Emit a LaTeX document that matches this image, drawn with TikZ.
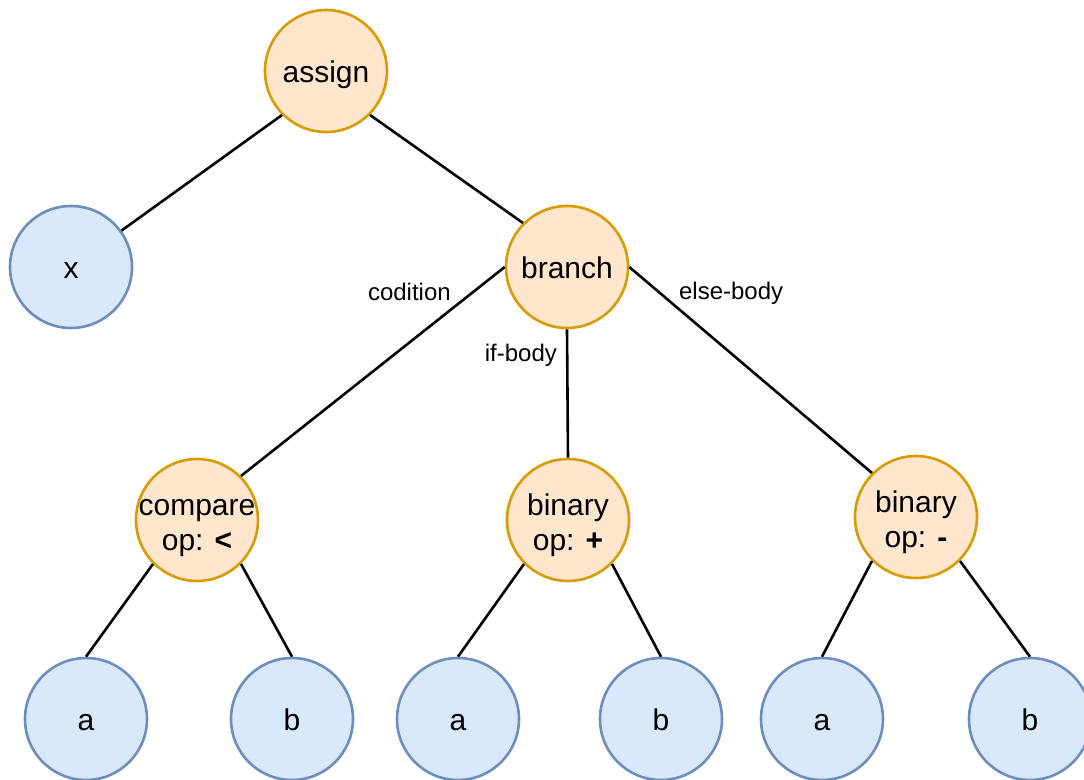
\documentclass[tikz,border=0pt]{standalone}
\usepackage{fontspec}
\setmainfont{Liberation Sans}
\usetikzlibrary{positioning}

\definecolor{opfill}{HTML}{FFE6CC}
\definecolor{opline}{HTML}{D79B00}
\definecolor{leaffill}{HTML}{DAE8FC}
\definecolor{leafline}{HTML}{6C8EBF}

\tikzset{
  opnode/.style={circle, draw=opline, fill=opfill, line width=1.3pt, minimum size=61pt,
    inner sep=0pt, align=center, text height=12pt, text depth=0pt,
    font=\fontsize{15}{17.5}\selectfont},
  twoline/.style={text height=31pt, text depth=0pt},
  leafnode/.style={circle, draw=leafline, fill=leaffill, line width=1.3pt, minimum size=61pt,
    inner sep=0pt, text height=12pt, text depth=0pt, font=\fontsize{15}{17.5}\selectfont},
  edgelabel/.style={inner sep=0pt, font=\fontsize{12}{14}\selectfont},
  link/.style={line width=1.3pt}
}

\begin{document}
\begin{tikzpicture}[x=0.5pt, y=-0.5pt]
    \useasboundingbox (0,0) rectangle (1084,780);

    % inner nodes
    \node[opnode] (assign) at (326,71) {assign};
    \node[opnode] (branch) at (567,267) {branch};
    \node[opnode, twoline] (cmp) at (197,520) {\makebox[0pt]{compare}\\op: \textbf{<}};
    \node[opnode, twoline] (plus) at (568,520) {binary\\op: \textbf{+}};
    \node[opnode, twoline] (minus) at (916,517) {binary\\op: \textbf{-}};

    % leaves
    \node[leafnode] (x) at (71,267) {x};
    \node[leafnode] (a1) at (86,719) {a};
    \node[leafnode] (b1) at (292,719) {b};
    \node[leafnode] (a2) at (458,719) {a};
    \node[leafnode] (b2) at (661,719) {b};
    \node[leafnode] (a3) at (822,719) {a};
    \node[leafnode] (b3) at (1030,719) {b};

    \draw[link] (assign.south west) -- (x);
    \draw[link] (assign.south east) -- (branch.north west);
    \draw[link] (branch.west) -- (cmp.north east)
        node[edgelabel, pos=0.12, left=10.5pt] {codition};
    \draw[link] (branch.south) -- (plus.north)
        node[edgelabel, pos=0.2, left=4.5pt] {if-body};
    \draw[link] (branch.east) -- (minus.north west)
        node[edgelabel, pos=0.13, right=8.5pt] {else-body};

    \draw[link] (cmp.south west) -- (a1.north);
    \draw[link] (cmp.south east) -- (b1.north);
    \draw[link] (plus.south west) -- (a2.north);
    \draw[link] (plus.south east) -- (b2.north);
    \draw[link] (minus.south west) -- (a3.north);
    \draw[link] (minus.south east) -- (b3.north);
\end{tikzpicture}
\end{document}
